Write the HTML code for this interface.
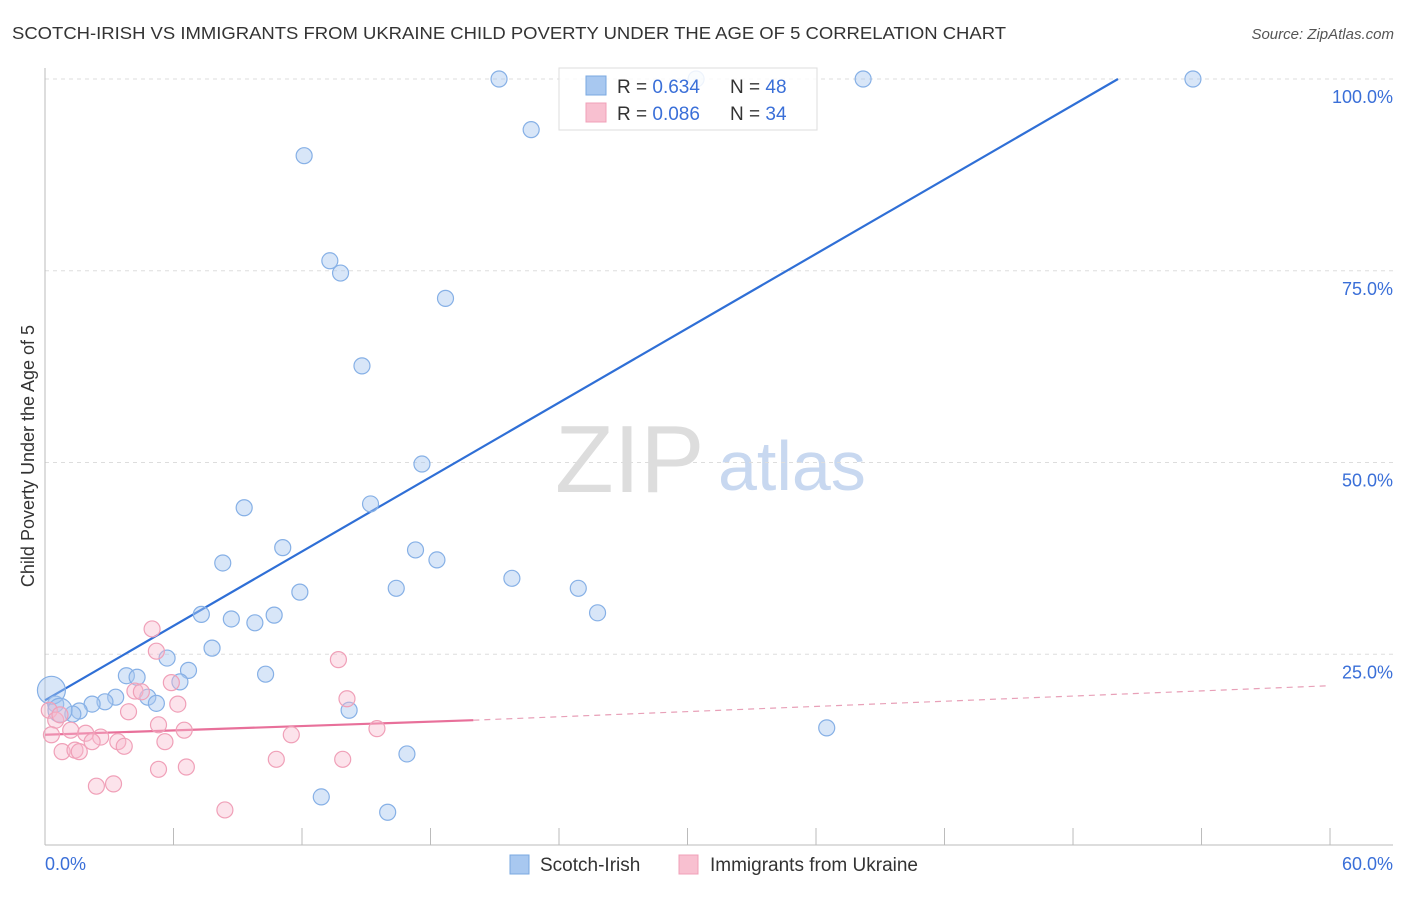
<!DOCTYPE html>
<html><head><meta charset="utf-8"><style>
body{margin:0;background:#fff;font-family:"Liberation Sans",sans-serif;}
svg text{font-family:"Liberation Sans",sans-serif;}
</style></head><body>
<svg width="1406" height="892">
<text x="12" y="39" font-size="17.5" fill="#333" textLength="994" lengthAdjust="spacingAndGlyphs">SCOTCH-IRISH VS IMMIGRANTS FROM UKRAINE CHILD POVERTY UNDER THE AGE OF 5 CORRELATION CHART</text>
<text x="1394" y="39" font-size="15" fill="#555" font-style="italic" text-anchor="end">Source: ZipAtlas.com</text>
<g>
<text x="555" y="492" font-size="96" fill="#ddd" font-family="Liberation Serif,serif">ZIP</text>
<text x="718" y="490" font-size="70" fill="#c8d8f0">atlas</text>
</g>
<g id="grid"></g>
<g id="axes"></g>
<text transform="translate(34,456) rotate(-90)" font-size="18" fill="#333" text-anchor="middle">Child Poverty Under the Age of 5</text>
<g id="lines"></g>
<g id="pts"></g>
<g>
<rect x="559" y="68" width="258" height="62" fill="#fff" fill-opacity="0.85" stroke="#ddd"/>
<rect x="586" y="76" width="20" height="19" fill="#a8c8f0" stroke="#7aa8e0"/>
<rect x="586" y="103" width="20" height="19" fill="#f8c0d0" stroke="#f0a0b8"/>
<text x="617" y="93" font-size="19" fill="#333">R = <tspan fill="#3a6fd8">0.634</tspan></text>
<text x="730" y="93" font-size="19" fill="#333">N = <tspan fill="#3a6fd8">48</tspan></text>
<text x="617" y="120" font-size="19" fill="#333">R = <tspan fill="#3a6fd8">0.086</tspan></text>
<text x="730" y="120" font-size="19" fill="#333">N = <tspan fill="#3a6fd8">34</tspan></text>
</g>
<g>
<rect x="510" y="855" width="19" height="19" fill="#a8c8f0" stroke="#7aa8e0"/>
<text x="540" y="871" font-size="19" fill="#333">Scotch-Irish</text>
<rect x="679" y="855" width="19" height="19" fill="#f8c0d0" stroke="#f0a0b8"/>
<text x="710" y="871" font-size="19" fill="#333">Immigrants from Ukraine</text>
</g>
</svg>
<script>
const blueX=[21.2,22.7,12.1,38.2,53.6,30.4,13.3,13.8,18.7,14.8,17.6,9.3,15.2,8.3,11.1,17.3,18.3,21.8,24.9,16.4,11.9,25.8,7.3,8.7,9.8,10.7,7.8,5.7,6.7,10.3,3.8,4.3,6.3,4.8,3.3,2.8,2.2,5.2,14.2,1.6,1.3,0.5,0.3,0.7,16.9,36.5,12.9,16.0];
const blueY=[100,93.4,90.0,100,100,100,76.3,74.7,71.4,62.6,49.8,44.1,44.6,36.9,38.9,38.6,37.3,34.9,33.6,33.6,33.1,30.4,30.2,29.6,29.1,30.1,25.8,24.5,22.9,22.4,22.2,22.0,21.4,19.4,19.4,18.8,18.5,18.6,17.7,17.6,17.2,18.5,20.3,17.7,12.0,15.4,6.4,4.4];
const pinkX=[5.0,5.2,13.7,5.9,4.2,4.5,6.2,14.1,3.9,5.3,0.2,0.5,1.2,1.9,2.6,3.4,2.2,3.7,5.6,6.5,11.5,15.5,0.8,1.4,1.6,6.6,5.3,13.9,10.8,2.4,3.2,8.4,0.3,0.7];
const pinkY=[28.3,25.4,24.3,21.3,20.2,20.1,18.5,19.2,17.5,15.8,17.7,16.4,15.1,14.7,14.2,13.6,13.6,13.0,13.6,15.1,14.5,15.3,12.3,12.5,12.3,10.3,10.0,11.3,11.3,7.8,8.1,4.7,14.5,17.1];
const yTicks=[25,50,75,100];
const yTickLabels=["25.0%","50.0%","75.0%","100.0%"];
const xTicks=[0,6,12,18,24,30,36,42,48,54,60];
const blueTrend=[[0,19.0],[50.1,100]];
const pinkTrend=[[0,14.5],[20,16.4],[60,20.9]];
const X=v=>45+v*21.417, Y=v=>846-v*7.67;
const NS="http://www.w3.org/2000/svg";
function mk(p,tag,a){const e=document.createElementNS(NS,tag);for(const k in a)e.setAttribute(k,a[k]);document.getElementById(p).appendChild(e);return e;}
yTicks.forEach((t,i)=>{
 const g=mk('grid','line',{x1:45,x2:1393,y1:Y(t),y2:Y(t),stroke:'#ddd','stroke-dasharray':'4,4'});
 
 
 const tx=mk('grid','text',{x:1393,y:Y(t)+24,'font-size':18,fill:'#3a6fd8','text-anchor':'end'});
 tx.textContent=yTickLabels[i];
 
 
});
const ax=mk('axes','line',{x1:45,x2:1393,y1:845,y2:845,stroke:'#bbb'});


const ay=mk('axes','line',{x1:45,x2:45,y1:68,y2:845,stroke:'#bbb'});


xTicks.forEach(t=>{const l=mk('axes','line',{x1:X(t),x2:X(t),y1:828,y2:845,stroke:'#bbb'});
 
 });
const xl0=mk('axes','text',{x:45,y:870,'font-size':18,fill:'#3a6fd8'});xl0.textContent=xTicks[0].toFixed(1)+'%';


const xl1=mk('axes','text',{x:1393,y:870,'font-size':18,fill:'#3a6fd8','text-anchor':'end'});xl1.textContent=xTicks[xTicks.length-1].toFixed(1)+'%';


blueX.forEach((x,i)=>{const big=(i==42)?14:(i==43?12:8);
 const c=mk('pts','circle',{cx:X(x),cy:Y(blueY[i]),r:big,fill:'rgba(168,200,240,0.45)',stroke:'#86b0e6','stroke-width':1.2});
 
 });
pinkX.forEach((x,i)=>{const c=mk('pts','circle',{cx:X(x),cy:Y(pinkY[i]),r:8,fill:'rgba(248,185,205,0.4)',stroke:'#f0a0b8','stroke-width':1.2});
 
 });
const bl=mk('lines','line',{x1:X(blueTrend[0][0]),y1:Y(blueTrend[0][1]),x2:X(blueTrend[1][0]),y2:Y(blueTrend[1][1]),stroke:'#2f6fd6','stroke-width':2.2});


const pl=mk('lines','line',{x1:X(pinkTrend[0][0]),y1:Y(pinkTrend[0][1]),x2:X(pinkTrend[1][0]),y2:Y(pinkTrend[1][1]),stroke:'#e8709a','stroke-width':2.2});


const pd=mk('lines','line',{x1:X(pinkTrend[1][0]),y1:Y(pinkTrend[1][1]),x2:X(pinkTrend[2][0]),y2:Y(pinkTrend[2][1]),stroke:'#e8a0b8','stroke-width':1.2,'stroke-dasharray':'6,5'});


</script>
</body></html>
